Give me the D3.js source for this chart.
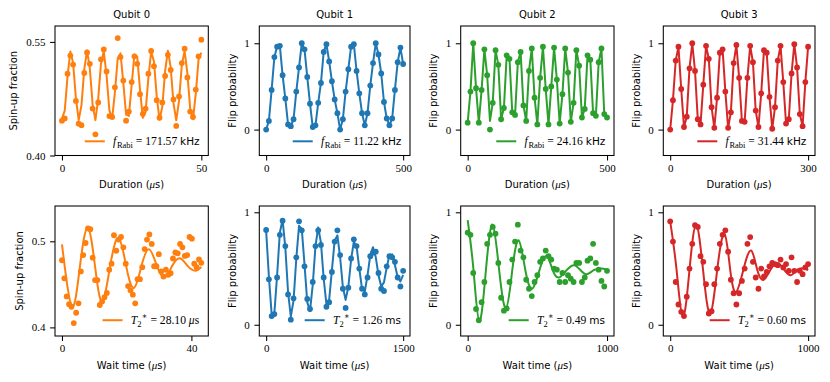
<!DOCTYPE html>
<html><head><meta charset="utf-8">
<script src="https://cdn.jsdelivr.net/npm/d3@7"></script>
<style>body{margin:0;background:#fff}svg{display:block}</style>
</head><body>
<svg id="c" width="830" height="382"></svg>
<script>
// ---------------- DATA ----------------
// Top row: Rabi oscillations
const q0RabiTime = [0,1,2,3,4,5,6,7,8,9,10,11,12,13,14,15,16,17,18,19,20,21,22,23,24,25,26,27,28,29,30,31,32,33,34,35,36,37,38,39,40,41,42,43,44,45,46,47,48,49,50];
const q0RabiSpin = [0.446,0.449,0.508,0.532,0.520,0.472,0.442,0.440,0.509,0.536,0.521,0.462,0.428,0.470,0.527,0.540,0.511,0.452,0.451,0.490,0.555,0.530,0.499,0.446,0.458,0.497,0.531,0.521,0.481,0.455,0.462,0.508,0.538,0.518,0.473,0.450,0.470,0.505,0.533,0.513,0.474,0.439,0.478,0.522,0.541,0.503,0.458,0.451,0.487,0.531,0.553];
const q0RabiFit = [0.4488,0.4592,0.5049,0.5374,0.5223,0.4756,0.4468,0.4664,0.5137,0.5385,0.5146,0.4672,0.4467,0.4747,0.5216,0.5376,0.5059,0.4599,0.4485,0.4837,0.5282,0.5348,0.4966,0.4540,0.4522,0.4931,0.5334,0.5303,0.4871,0.4497,0.4576,0.5024,0.5368,0.5242,0.4780,0.4471,0.4644,0.5115,0.5384,0.5167,0.4694,0.4465,0.4724,0.5195,0.5381,0.5083,0.4618,0.4478,0.4812,0.5266,0.5358];

const q1RabiTime = [0,10,20,30,40,50,60,70,80,90,100,110,120,130,140,150,160,170,180,190,200,210,220,230,240,250,260,270,280,290,300,310,320,330,340,350,360,370,380,390,400,410,420,430,440,450,460,470,480,490,500];
const q1RabiFlip = [0.00,0.10,0.46,0.84,0.96,0.97,0.63,0.36,0.06,0.04,0.12,0.44,0.72,1.00,0.93,0.61,0.30,0.03,0.05,0.31,0.54,0.90,0.99,0.79,0.56,0.35,0.19,0.00,0.12,0.44,0.70,0.96,0.99,0.68,0.42,0.19,0.05,0.19,0.51,0.77,1.00,0.87,0.65,0.32,0.13,0.05,0.13,0.46,0.78,0.95,0.76];

const q2RabiTime = [0,10,20,30,40,50,60,70,80,90,100,110,120,130,140,150,160,170,180,190,200,210,220,230,240,250,260,270,280,290,300,310,320,330,340,350,360,370,380,390,400,410,420,430,440,450,460,470,480,490,500];
const q2RabiFlip = [0.08,0.44,1.00,0.48,0.08,0.46,0.93,0.63,0.00,0.31,0.92,0.75,0.12,0.25,0.86,0.82,0.20,0.17,0.78,0.90,0.28,0.10,0.68,0.94,0.37,0.06,0.60,0.96,0.47,0.06,0.50,0.95,0.58,0.07,0.41,0.94,0.66,0.09,0.31,0.92,0.74,0.14,0.24,0.86,0.81,0.19,0.16,0.78,0.94,0.18,0.14];
const q2RabiFit = [0.08,0.44,1.00,0.48,0.08,0.46,0.93,0.63,0.10,0.31,0.92,0.75,0.12,0.25,0.86,0.82,0.20,0.17,0.78,0.90,0.28,0.10,0.68,0.94,0.37,0.06,0.60,0.96,0.47,0.06,0.50,0.95,0.58,0.07,0.41,0.94,0.66,0.09,0.31,0.92,0.74,0.14,0.24,0.86,0.81,0.19,0.16,0.78,0.94,0.18,0.14];

const q3RabiTime = [0,6,12,18,24,30,36,42,48,54,60,66,72,78,84,90,96,102,108,114,120,126,132,138,144,150,156,162,168,174,180,186,192,198,204,210,216,222,228,234,240,246,252,258,264,270,276,282,288,294,300];
const q3RabiFlip = [0.00,0.34,0.80,0.96,0.47,0.03,0.15,0.71,1.00,0.68,0.12,0.06,0.52,0.97,0.82,0.26,0.02,0.37,0.89,0.93,0.44,0.02,0.20,0.77,0.98,0.60,0.10,0.09,0.60,0.97,0.78,0.22,0.03,0.42,0.92,0.89,0.38,0.01,0.26,0.80,0.97,0.55,0.07,0.12,0.65,0.99,0.72,0.18,0.04,0.55,0.96];

// Bottom row: Ramsey decay
const q0RamseyTime = [0,0.73,1.46,2.19,2.92,3.65,4.38,5.11,5.84,6.57,7.3,8.03,8.76,9.49,10.22,10.95,11.68,12.41,13.14,13.87,14.6,15.33,16.06,16.79,17.52,18.25,18.98,19.71,20.44,21.17,21.9,22.63,23.36,24.09,24.82,25.55,26.28,27.01,27.74,28.47,29.2,29.93,30.66,31.39,32.12,32.85,33.58,34.31,35.04,35.77,36.5,37.23,37.96,38.69,39.42,40.15,40.88,41.61,42.34,43.07];
const q0RamseySpin = [0.478,0.457,0.436,0.427,0.424,0.405,0.417,0.428,0.465,0.484,0.498,0.515,0.514,0.481,0.455,0.455,0.426,0.430,0.435,0.440,0.467,0.474,0.507,0.489,0.502,0.505,0.493,0.474,0.448,0.443,0.438,0.428,0.456,0.456,0.470,0.491,0.502,0.508,0.497,0.471,0.471,0.485,0.465,0.459,0.467,0.461,0.463,0.480,0.487,0.486,0.497,0.493,0.483,0.484,0.505,0.503,0.474,0.470,0.479,0.475];
const q0RamseyFitTime = [0,0.825,3.2,5.575,7.95,10.2,12.4,14.9,17.45,19.825,22.2,24.575,26.95,29.325,31.7,34.075,36.45,38.825,41.2,43.07];
const q0RamseyFit = [0.4964,0.4715,0.4241,0.4715,0.5158,0.4715,0.4300,0.4715,0.5041,0.4715,0.4458,0.4715,0.4906,0.4715,0.4581,0.4715,0.4804,0.4715,0.4659,0.4701];

const q1RamseyTime = [0,30,60,90,120,150,180,210,240,270,300,330,360,390,420,450,480,510,540,570,600,630,660,690,720,750,780,810,840,870,900,930,960,990,1020,1050,1080,1110,1140,1170,1200,1230,1260,1290,1320,1350,1380,1410,1440,1470,1500];
const q1RamseyFlip = [0.843,0.404,0.077,0.095,0.420,0.800,0.925,0.700,0.270,0.045,0.235,0.600,0.920,0.840,0.520,0.230,0.140,0.380,0.700,0.840,0.710,0.420,0.160,0.200,0.470,0.740,0.840,0.620,0.320,0.150,0.330,0.590,0.760,0.700,0.500,0.320,0.270,0.420,0.610,0.640,0.650,0.460,0.320,0.300,0.520,0.610,0.600,0.560,0.420,0.340,0.480];
const q1RamseyFit = [0.835,0.428,0.098,0.104,0.439,0.821,0.933,0.686,0.289,0.073,0.214,0.587,0.880,0.852,0.537,0.201,0.121,0.354,0.698,0.866,0.729,0.411,0.181,0.221,0.486,0.748,0.795,0.600,0.336,0.221,0.338,0.578,0.739,0.696,0.499,0.317,0.296,0.439,0.620,0.690,0.602,0.441,0.341,0.377,0.508,0.620,0.626,0.532,0.422,0.385,0.443];

const q2RamseyTime = [0,20,40,60,80,100,120,140,160,180,200,220,240,260,280,300,320,340,360,380,400,420,440,460,480,500,520,540,560,580,600,620,640,660,680,700,720,740,760,780,800,820,840,860,880,900,920,940,960,980,1000];
const q2RamseyFlip = [0.82,0.80,0.46,0.14,0.04,0.20,0.38,0.72,0.80,0.87,0.81,0.55,0.24,0.125,0.145,0.38,0.58,0.74,0.89,0.66,0.60,0.40,0.32,0.255,0.38,0.44,0.56,0.59,0.66,0.61,0.58,0.50,0.49,0.38,0.46,0.38,0.44,0.41,0.38,0.55,0.55,0.38,0.42,0.57,0.59,0.72,0.55,0.49,0.39,0.34,0.48];
const q2RamseyFitTime = [0,42,84,131,178,226,275,320,366,414,463,515,566,610,655,710,764,810,855,905,957,1000];
const q2RamseyFit = [0.93,0.485,0.03,0.485,0.89,0.485,0.145,0.485,0.75,0.485,0.32,0.485,0.61,0.485,0.42,0.485,0.53,0.485,0.45,0.485,0.50,0.49];

const q3RamseyTime = [0,20,40,60,80,100,120,140,160,180,200,220,240,260,280,300,320,340,360,380,400,420,440,460,480,500,520,540,560,580,600,620,640,660,680,700,720,740,760,780,800,820,840,860,880,900,920,940,960,980,1000];
const q3RamseyFlip = [0.92,0.74,0.38,0.18,0.115,0.077,0.25,0.50,0.72,0.885,0.87,0.61,0.56,0.36,0.10,0.12,0.36,0.50,0.72,0.80,0.84,0.65,0.40,0.28,0.18,0.28,0.39,0.50,0.72,0.78,0.56,0.42,0.32,0.50,0.43,0.47,0.52,0.55,0.54,0.53,0.58,0.51,0.54,0.48,0.60,0.48,0.38,0.48,0.45,0.51,0.54];
const q3RamseyFitTime = [0,46,92,140,188,238,289,341,393,435,477,531,586,631,677,727,778,826,875,923,971,1000];
const q3RamseyFit = [0.92,0.49,0.07,0.49,0.89,0.49,0.10,0.49,0.81,0.49,0.29,0.49,0.66,0.49,0.40,0.49,0.55,0.49,0.44,0.49,0.50,0.485];

// Labels, ticks, legend values
const titles = ["Qubit 0","Qubit 1","Qubit 2","Qubit 3"];
const rabiFreqs = ["171.57","11.22","24.16","31.44"];
const t2Values = ["28.10","1.26","0.49","0.60"];
const t2Units = ["μs","ms","ms","ms"];
const rabiXTicks = [[0,50],[0,500],[0,500],[0,300]];
const ramseyXTicks = [[0,40],[0,1500],[0,1000],[0,1000]];
const spinRabiYTicks = [0.40,0.55], spinRabiYLabels = ["0.40","0.55"];
const spinRamseyYTicks = [0.4,0.5], spinRamseyYLabels = ["0.4","0.5"];
const flipYTicks = [0,1], flipYLabels = ["0","1"];
const colors = ["#ff7f0e","#1f77b4","#2ca02c","#d62728"];

// ---------------- LAYOUT ----------------
const SERIF = "'Liberation Serif','DejaVu Serif',serif";
const SANS = "'DejaVu Sans','Liberation Sans',sans-serif";
const colL = [55, 259.3, 460.7, 663.3], colR = [208.3, 410, 614, 815];
const rowT = [26, 206], rowB = [155.5, 336];

const panels = [
  {row:0,col:0,x:q0RabiTime,y:q0RabiSpin,fx:q0RabiTime,fy:q0RabiFit,curve:d3.curveLinear,yDom:[0.40,0.571],yT:spinRabiYTicks,yL:spinRabiYLabels,ylabel:"Spin-up fraction"},
  {row:0,col:1,x:q1RabiTime,y:q1RabiFlip,fx:q1RabiTime,fy:q1RabiFlip,curve:d3.curveLinear,yDom:[-0.3,1.2],yT:flipYTicks,yL:flipYLabels,ylabel:"Flip probability"},
  {row:0,col:2,x:q2RabiTime,y:q2RabiFlip,fx:q2RabiTime,fy:q2RabiFit,curve:d3.curveLinear,yDom:[-0.3,1.2],yT:flipYTicks,yL:flipYLabels,ylabel:"Flip probability"},
  {row:0,col:3,x:q3RabiTime,y:q3RabiFlip,fx:q3RabiTime,fy:q3RabiFlip,curve:d3.curveLinear,yDom:[-0.3,1.2],yT:flipYTicks,yL:flipYLabels,ylabel:"Flip probability"},
  {row:1,col:0,x:q0RamseyTime,y:q0RamseySpin,fx:q0RamseyFitTime,fy:q0RamseyFit,curve:d3.curveNatural,yDom:[0.39,0.541],yT:spinRamseyYTicks,yL:spinRamseyYLabels,ylabel:"Spin-up fraction"},
  {row:1,col:1,x:q1RamseyTime,y:q1RamseyFlip,fx:q1RamseyTime,fy:q1RamseyFit,curve:d3.curveLinear,yDom:[-0.1,1.056],yT:flipYTicks,yL:flipYLabels,ylabel:"Flip probability"},
  {row:1,col:2,x:q2RamseyTime,y:q2RamseyFlip,fx:q2RamseyFitTime,fy:q2RamseyFit,curve:d3.curveNatural,yDom:[-0.1,1.056],yT:flipYTicks,yL:flipYLabels,ylabel:"Flip probability"},
  {row:1,col:3,x:q3RamseyTime,y:q3RamseyFlip,fx:q3RamseyFitTime,fy:q3RamseyFit,curve:d3.curveNatural,yDom:[-0.1,1.056],yT:flipYTicks,yL:flipYLabels,ylabel:"Flip probability"}
];

const svg = d3.select("#c");
svg.append("rect").attr("width",830).attr("height",382).attr("fill","#fff");

panels.forEach(p => {
  const L = colL[p.col], R = colR[p.col], T = rowT[p.row], B = rowB[p.row];
  const color = colors[p.col];
  const ext = d3.extent(p.x), pad = (ext[1]-ext[0])*0.05;
  const xs = d3.scaleLinear().domain([ext[0]-pad, ext[1]+pad]).range([L,R]);
  const ys = d3.scaleLinear().domain(p.yDom).range([B,T]);
  const g = svg.append("g");

  // fit line
  const line = d3.line().x((d,i)=>xs(p.fx[i])).y(d=>ys(d)).curve(p.curve);
  g.append("path").attr("d", line(p.fy)).attr("fill","none")
    .attr("stroke",color).attr("stroke-width",2).attr("stroke-linejoin","round");
  // data points
  g.selectAll("circle.pt").data(p.y).join("circle").attr("class","pt")
    .attr("cx",(d,i)=>xs(p.x[i])).attr("cy",d=>ys(d)).attr("r",2.9).attr("fill",color);

  // frame
  g.append("rect").attr("x",L).attr("y",T).attr("width",R-L).attr("height",B-T)
    .attr("fill","none").attr("stroke","#000").attr("stroke-width",1.05);

  // axes
  const xTicks = p.row===0 ? rabiXTicks[p.col] : ramseyXTicks[p.col];
  const xa = g.append("g").attr("transform",`translate(0,${B})`)
    .call(d3.axisBottom(xs).tickValues(xTicks).tickFormat(d=>String(d)).tickSize(4.9).tickPadding(3.4));
  const ya = g.append("g").attr("transform",`translate(${L},0)`)
    .call(d3.axisLeft(ys).tickValues(p.yT).tickFormat((d,i)=>p.yL[i]).tickSize(4.9).tickPadding(4.6));
  [xa,ya].forEach(a=>{
    a.select(".domain").remove();
    a.selectAll("line").attr("stroke","#000").attr("stroke-width",1.05);
    a.selectAll("text").attr("font-family",SERIF).attr("font-size",11).attr("fill","#000");
  });
  let maxW = 0;
  ya.selectAll("text").each(function(){ maxW = Math.max(maxW, this.getBBox().width); });

  // y label
  g.append("text").attr("transform",`translate(${L-maxW-21.3},${(T+B)/2}) rotate(-90)`)
    .attr("text-anchor","middle").attr("dominant-baseline","central")
    .attr("font-family",SANS).attr("font-size",10).text(p.ylabel);

  // x label
  const xl = g.append("text").attr("x",(L+R)/2).attr("y",B+32.5).attr("text-anchor","middle")
    .attr("font-family",SANS).attr("font-size",10);
  xl.append("tspan").text(p.row===0 ? "Duration (" : "Wait time (");
  xl.append("tspan").attr("font-family",SERIF).attr("font-style","italic").attr("font-size",11).text("μ");
  xl.append("tspan").text("s)");

  // title
  if (p.row===0) {
    g.append("text").attr("x",(L+R)/2).attr("y",18).attr("text-anchor","middle")
      .attr("font-family",SANS).attr("font-size",10).text(titles[p.col]);
  }

  // legend
  const ly = B - (p.row===0 ? 14.2 : 15.8);
  const lt = g.append("text").attr("y", ly+3.8).attr("font-family",SERIF).attr("font-size",11.6).attr("fill","#000");
  if (p.row===0) {
    lt.append("tspan").attr("font-style","italic").text("f");
    lt.append("tspan").attr("font-size",8.5).attr("dy",2.6).attr("dx",0.6).text("Rabi");
    lt.append("tspan").attr("dy",-2.6).text(" = " + rabiFreqs[p.col] + " ");
    lt.append("tspan").attr("font-family",SANS).attr("font-size",10.5).text("kHz");
  } else {
    lt.append("tspan").attr("font-style","italic").text("T");
    lt.append("tspan").attr("font-size",8.5).attr("dy",2.6).text("2");
    lt.append("tspan").attr("font-size",8.5).attr("dy",-7.2).attr("dx",0.2).text("∗");
    lt.append("tspan").attr("dy",4.6).text(" = " + t2Values[p.col] + " ");
    if (t2Units[p.col]==="μs") {
      lt.append("tspan").attr("font-style","italic").text("μ");
      lt.append("tspan").text("s");
    } else {
      lt.append("tspan").attr("font-family",SANS).attr("font-size",10.5).text(t2Units[p.col]);
    }
  }
  const w = lt.node().getComputedTextLength();
  const tx = R - 9.3 - w;
  lt.attr("x", tx);
  g.append("line").attr("x1",tx-28.3).attr("x2",tx-8.3).attr("y1",ly).attr("y2",ly)
    .attr("stroke",color).attr("stroke-width",2);
});
</script>
</body></html>
